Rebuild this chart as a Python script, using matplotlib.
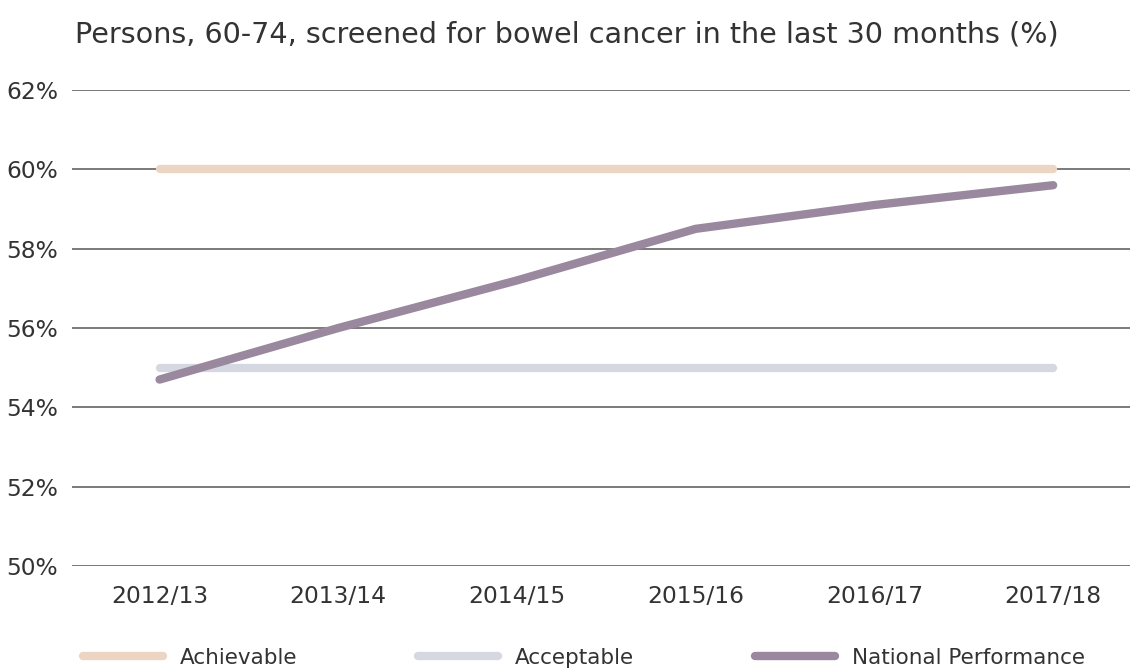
import matplotlib
matplotlib.use("Agg")
import matplotlib.pyplot as plt
import numpy as np

years = ["2012/13", "2013/14", "2014/15", "2015/16", "2016/17", "2017/18"]
achievable = [60, 60, 60, 60, 60, 60]
acceptable = [55, 55, 55, 55, 55, 55]
national = [54.7, 56.0, 57.2, 58.5, 59.1, 59.6]

plt.rcParams["font.family"] = ["DejaVu Sans"]

fig = plt.figure(figsize=(11.3, 6.68), dpi=100)
ax = fig.add_axes([72 / 1130, 1 - 566 / 668, 1 - 72 / 1130, 476 / 668])

x = np.arange(len(years))
ax.plot(x, achievable, color="#EDD5C3", lw=6, solid_capstyle="round", label="Achievable", zorder=3)
ax.plot(x, acceptable, color="#D5D8E0", lw=6, solid_capstyle="round", label="Acceptable", zorder=3)
ax.plot(x, national, color="#9A889E", lw=6, solid_capstyle="round", label="National Performance", zorder=4)

ax.set_xlim(-0.49, 5.43)
ax.set_ylim(50, 62)
ax.set_yticks([50, 52, 54, 56, 58, 60, 62])
ax.set_yticklabels([f"{v}%" for v in [50, 52, 54, 56, 58, 60, 62]])
ax.set_xticks(x)
ax.set_xticklabels(years)
ax.yaxis.grid(True, color="#6f6f6f", lw=1.3)
ax.set_axisbelow(True)
for s in ax.spines.values():
    s.set_visible(False)
ax.tick_params(length=0, labelsize=16.8, colors="#333333")
ax.tick_params(axis="y", pad=10)
ax.tick_params(axis="x", pad=14)

fig.text(75 / 1130, 1 - 35 / 668, "Persons, 60-74, screened for bowel cancer in the last 30 months (%)",
         fontsize=20.6, color="#333333", va="center", ha="left")

fig.legend(loc="center left", bbox_to_anchor=(64 / 1130, 1 - 658 / 668), ncol=3, frameon=False,
           fontsize=15.5, handlelength=3.7, columnspacing=5.6, handletextpad=0.8,
           labelcolor="#333333")

fig.savefig("out.png", dpi=100)
